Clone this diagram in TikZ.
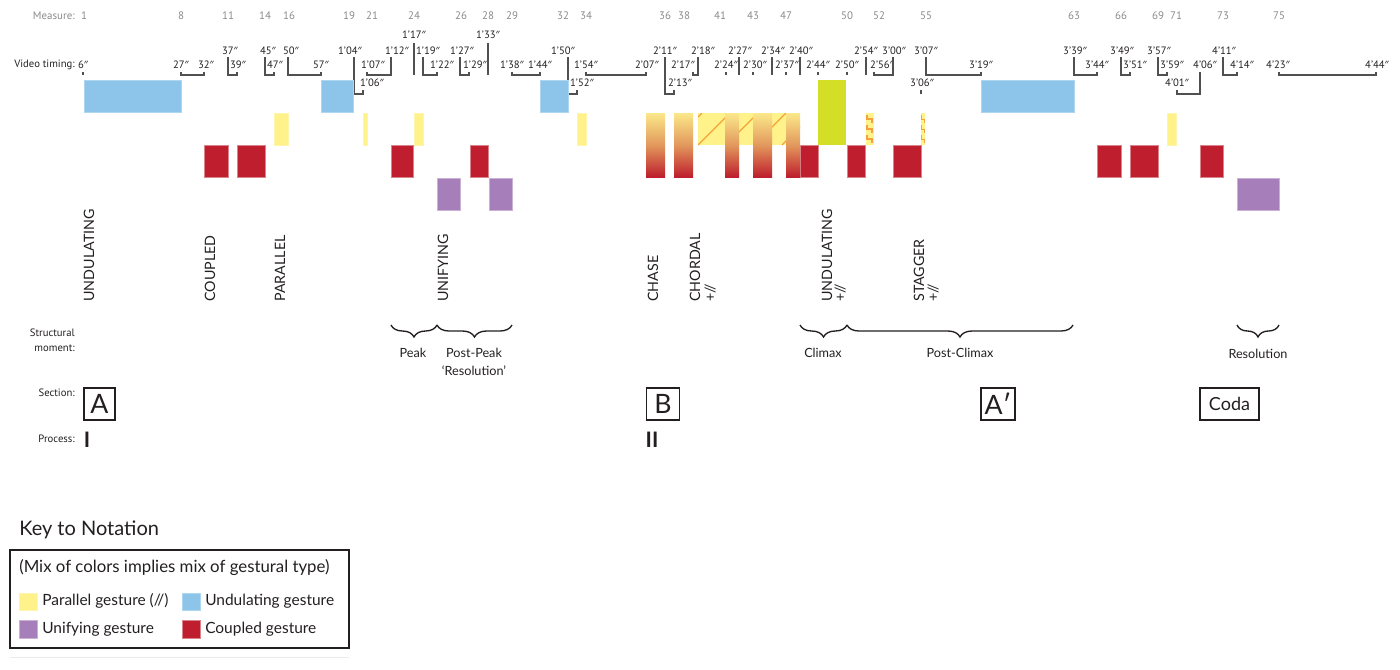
\documentclass[tikz,border=0pt]{standalone}
\usepackage{fontspec}
\setmainfont{Lato}
\newfontfamily\tfont{PT Sans}
\newfontfamily\pfont{Noto Sans}
\newcommand{\dq}{{\pfont\fontsize{7.6}{9}\selectfont ″}}
\usetikzlibrary{decorations.pathreplacing}
\definecolor{cblue}{HTML}{8DC4EA}
\definecolor{cyel}{HTML}{FFF28A}
\definecolor{cred}{HTML}{BE1E2D}
\definecolor{cpur}{HTML}{A67FBA}
\definecolor{cgrn}{HTML}{D5DE26}
\definecolor{gtop}{HTML}{FBE88A}
\definecolor{gmid}{HTML}{E2985C}
\definecolor{horg}{HTML}{F6A23A}
\definecolor{mgray}{HTML}{8A8A8A}
\definecolor{lgray}{HTML}{505050}
\definecolor{txt}{HTML}{231F20}
\begin{document}
\begin{tikzpicture}[x=0.75pt,y=-0.75pt,
  meas/.style={font=\tfont\fontsize{8.2}{9}\selectfont, text=mgray, inner sep=0pt},
  tim/.style={font=\tfont\fontsize{8}{9}\selectfont, text=txt, inner sep=0pt},
  side/.style={font=\tfont\fontsize{8}{11.25}\selectfont, text=txt, anchor=east, align=right, inner sep=0pt},
  tk/.style={draw=lgray, line width=0.9pt},
  rot/.style={rotate=90, anchor=base west, inner sep=0pt, font=\fontsize{10.7}{12}\selectfont, text=txt},
  br/.style={decorate, decoration={brace, mirror, amplitude=9pt}, line width=1pt, draw=txt},
  brl/.style={font=\fontsize{9.5}{13.5}\selectfont, text=txt, inner sep=0pt, align=center},
  secbox/.style={draw=txt, line width=1pt, minimum height=24pt, inner sep=0pt, text=txt},
  keyt/.style={font=\fontsize{11.6}{13}\selectfont, text=txt, anchor=west, inner sep=0pt},
  bluebar/.style={fill=cblue, draw=cblue!70!white, line width=0.5pt},
  yelbar/.style={fill=cyel, draw=cyel!70!white, line width=0.5pt},
  redbar/.style={fill=cred, draw=cred!55!white, line width=0.5pt},
  purbar/.style={fill=cpur, draw=cpur!60!white, line width=0.5pt},
  gradbar/.style={top color=gtop, bottom color=cred, middle color=gmid}
]
\useasboundingbox (0,0) rectangle (1400,669);

% ---- measure row
\node[meas, anchor=east, text=mgray] (lm) at (75,16) {Measure:};
\foreach \n/\x in {1/84, 8/181, 11/228, 14/265, 16/289, 19/349, 21/372, 24/414, 26/461, 28/488, 29/512, 32/563, 34/586, 36/665, 38/684, 41/720, 43/753, 47/786, 50/847, 52/879, 55/926, 63/1074, 66/1121, 69/1158, 71/1176, 73/1223, 75/1279}
  \node[meas] (m\n) at (\x,16) {\n};

% ---- video timing
\node[side] (lv) at (75,65) {Video timing:};
\foreach \t/\x [count=\i] in {1’17\dq/414, 1’33\dq/488}
  \node[tim] (ta\i) at (\x,35) {\t};
\foreach \t/\x [count=\i] in {37\dq/230, 45\dq/268, 50\dq/291, 1’04\dq/350, 1’12\dq/397, 1’19\dq/428, 1’27\dq/462, 1’50\dq/563, 2’11\dq/665, 2’18\dq/703, 2’27\dq/740, 2’34\dq/773, 2’40\dq/801, 2’54\dq/866, 3’00\dq/894, 3’07\dq/926, 3’39\dq/1075, 3’49\dq/1122, 3’57\dq/1159, 4’11\dq/1224}
  \node[tim] (tb\i) at (\x,51) {\t};
\foreach \t/\x [count=\i] in {6\dq/83, 27\dq/181, 32\dq/206, 39\dq/238, 47\dq/275, 57\dq/321, 1’07\dq/373, 1’22\dq/442, 1’29\dq/475, 1’38\dq/512, 1’44\dq/540, 1’54\dq/586, 2’07\dq/647, 2’17\dq/683, 2’24\dq/726, 2’30\dq/755, 2’37\dq/787, 2’44\dq/818, 2’50\dq/847, 2’56\dq/882, 3’19\dq/981, 3’44\dq/1097, 3’51\dq/1135, 3’59\dq/1172, 4’06\dq/1205, 4’14\dq/1242, 4’23\dq/1278, 4’44\dq/1377}
  \node[tim] (tc\i) at (\x,65) {\t};
\foreach \t/\x [count=\i] in {1’06\dq/372, 1’52\dq/582, 2’13\dq/680, 3’06\dq/922, 4’01\dq/1177}
  \node[tim] (td\i) at (\x,83) {\t};

% ---- timing brackets
\draw[tk] (83,72) -- (83,75);
\draw[tk] (181,72) -- (181,75) -- (204,75) -- (204,72);
\draw[tk] (228,57) -- (228,75) -- (237,75) -- (237,72);
\draw[tk] (265,57) -- (265,75) -- (274,75) -- (274,72);
\draw[tk] (288,57) -- (288,75) -- (321,75) -- (321,72);
\draw[tk] (354,57) -- (354,94) -- (363,94) -- (363,90);
\draw[tk] (367,72) -- (367,75) -- (391,75) -- (391,57);
\draw[tk] (414,43) -- (414,75);
\draw[tk] (423,57) -- (423,75) -- (437,75) -- (437,72);
\draw[tk] (460,57) -- (460,75) -- (469,75) -- (469,72);
\draw[tk] (488,43) -- (488,75);
\draw[tk] (512,72) -- (512,75) -- (540,75) -- (540,72);
\draw[tk] (568,57) -- (568,94) -- (577,94) -- (577,90);
\draw[tk] (586,72) -- (586,75) -- (646,75) -- (646,72);
\draw[tk] (665,57) -- (665,94) -- (674,94) -- (674,90);
\draw[tk] (693,72) -- (693,75) -- (698,75) -- (698,57);
\draw[tk] (726,72) -- (726,75);
\draw[tk] (739,57) -- (739,75);
\draw[tk] (753,72) -- (753,75);
\draw[tk] (772,57) -- (772,75);
\draw[tk] (786,72) -- (786,75);
\draw[tk] (800,57) -- (800,75);
\draw[tk] (818,72) -- (818,75);
\draw[tk] (847,72) -- (847,75);
\draw[tk] (866,57) -- (866,75);
\draw[tk] (874,72) -- (874,75) -- (893,75) -- (893,57);
\draw[tk] (926,57) -- (926,75) -- (981,75) -- (981,72);
\draw[tk] (921,90) -- (921,94);
\draw[tk] (1074,57) -- (1074,75) -- (1097,75) -- (1097,72);
\draw[tk] (1121,57) -- (1121,75) -- (1130,75) -- (1130,72);
\draw[tk] (1158,57) -- (1158,75) -- (1167,75) -- (1167,72);
\draw[tk] (1177,90) -- (1177,94) -- (1200,94) -- (1200,72);
\draw[tk] (1223,57) -- (1223,75) -- (1237,75) -- (1237,72);
\draw[tk] (1279,72) -- (1279,75) -- (1376,75) -- (1376,72);

% ---- bars
\foreach \a/\b in {84/181, 321/353, 540/568, 981/1074}
  \draw[bluebar] (\a,80) rectangle (\b,112);
\fill[cgrn] (818,80) rectangle (846,145);
\foreach \a/\b in {274/288, 363/367, 414/423, 577/586, 1167/1176}
  \draw[yelbar] (\a,113) rectangle (\b,145);
\foreach \a/\b in {204/228, 237/265, 391/413, 470/488, 800/818, 847/865, 893/921, 1097/1121, 1130/1158, 1200/1223}
  \draw[redbar] (\a,145) rectangle (\b,177);
\foreach \a/\b in {437/460, 489/512, 1237/1279}
  \draw[purbar] (\a,178) rectangle (\b,210);

% hatched parallel region
\begin{scope}
  \clip (698,113) rectangle (800,145);
  \fill[cyel] (698,113) rectangle (800,145);
  \foreach \s in {670,698,...,810}
    \draw[horg, line width=0.9pt] (\s,145) -- ++(32,-32);
\end{scope}
% zigzag parallel regions
\fill[cyel] (866,113) rectangle (874,145);
\foreach \yy in {115,125,135}
  \draw[horg, line width=0.8pt] (867,\yy) -- (867,\yy+4) -- (872,\yy+4) -- (872,\yy+8);
\fill[cyel] (921,113) rectangle (925,145);
\foreach \yy in {115,125,135}
  \draw[horg, line width=0.7pt] (921.5,\yy) -- (921.5,\yy+4) -- (924,\yy+4) -- (924,\yy+8);

% gradient bars
\foreach \a/\b in {646/665, 674/693, 725/739, 753/772, 786/800}
  \shade[gradbar] (\a,113) rectangle (\b,177);

% ---- gesture labels
\node[rot] (g1) at (94,302) {UNDULATING};
\node[rot] (g2) at (215,302) {COUPLED};
\node[rot] (g3) at (285,302) {PARALLEL};
\node[rot] (g4) at (448,302) {UNIFYING};
\node[rot] (g5) at (658,302) {CHASE};
\node[rot] (g6) at (700,302) {CHORDAL};
\node[rot] (g6b) at (715,302) {+//};
\node[rot] (g7) at (832,302) {UNDULATING};
\node[rot] (g7b) at (845,302) {+//};
\node[rot] (g8) at (924,302) {STAGGER};
\node[rot] (g8b) at (938,302) {+//};

% ---- structural moments
\node[side] (ls) at (75,340) {Structural\\moment:};
\draw[br] (391,325) -- (437,325);
\draw[br] (437,325) -- (512,325);
\draw[br] (800,325) -- (847,325);
\draw[br] (847,325) -- (1073,325);
\draw[br] (1237,325) -- (1279,325);
\node[brl] (b1) at (413,353) {Peak};
\node[brl] (b2) at (474,362) {Post-Peak\\‘Resolution’};
\node[brl] (b3) at (823,353) {Climax};
\node[brl] (b4) at (960,353) {Post-Climax};
\node[brl] (b5) at (1258,354) {Resolution};

% ---- sections
\node[side] (lsec) at (75,393) {Section:};
\node[secbox, minimum width=23.25pt, font=\fontsize{20}{20}\selectfont] (sA) at (99.5,404) {A};
\node[secbox, minimum width=24.75pt, font=\fontsize{20}{20}\selectfont] (sB) at (663,404) {B};
\node[secbox, minimum width=25.5pt, font=\fontsize{20}{20}\selectfont] (sA2) at (998,404) {A′};
\node[secbox, minimum width=44.25pt, font=\fontsize{13.5}{14}\selectfont] (sC) at (1229.5,404) {Coda};

% ---- process
\node[side] (lp) at (75,439) {Process:};
\node[font=\bfseries\fontsize{16}{16}\selectfont, inner sep=0pt, text=txt] (p1) at (87,440) {I};
\node[font=\bfseries\fontsize{16}{16}\selectfont, inner sep=0pt, text=txt] (p2) at (652,440) {II};

% ---- key
\node[anchor=west, font=\fontsize{15}{17}\selectfont, inner sep=0pt, text=txt] (kt) at (19,530) {Key to Notation};
\draw[line width=1.1pt, draw=txt] (10,550) rectangle (349,648);
\node[keyt, font=\fontsize{12.6}{14}\selectfont] (k0) at (19,568) {(Mix of colors implies mix of gestural type)};
\draw[yelbar] (19,593) rectangle (37,610);
\draw[bluebar] (182,593) rectangle (200,610);
\draw[purbar] (19,620) rectangle (37,638);
\draw[redbar] (182,620) rectangle (200,638);
\node[keyt] (k1) at (42,601) {Parallel gesture (//)};
\node[keyt] (k2) at (205,601) {Undulating gesture};
\node[keyt] (k3) at (42,629) {Unifying gesture};
\node[keyt] (k4) at (205,629) {Coupled gesture};
\draw[draw=black!8, line width=0.75pt] (10,657) -- (349,657);
\end{tikzpicture}
\end{document}
